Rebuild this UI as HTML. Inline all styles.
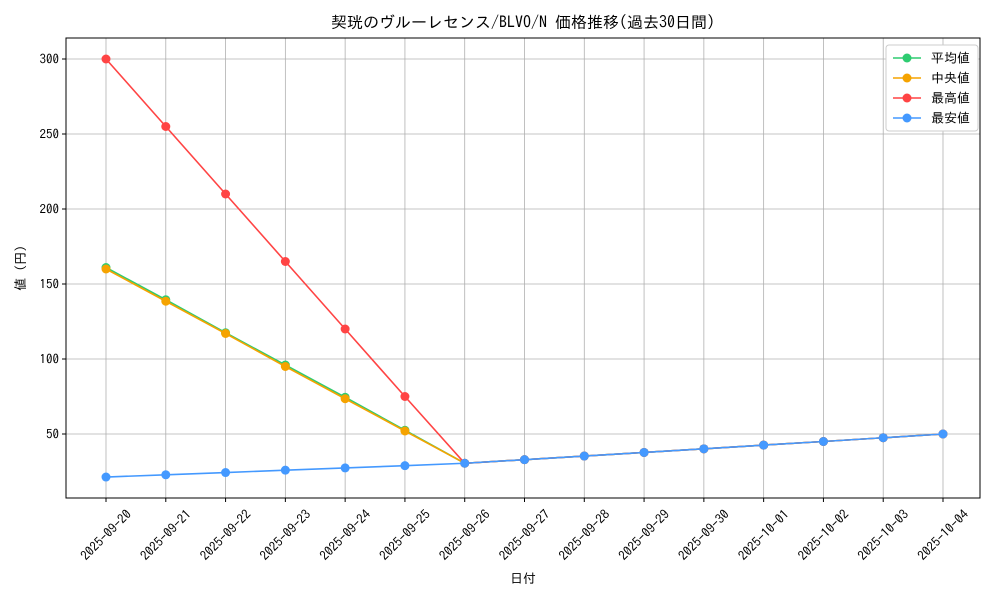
<!DOCTYPE html>
<html><head><meta charset="utf-8"><style>
body{margin:0;background:#fff;}
svg text{font-family:"IPAGothic","Noto Sans CJK JP",sans-serif;fill:#000;}
</style></head><body>
<svg id="chart" width="1000" height="600" xmlns="http://www.w3.org/2000/svg"></svg>
<script>
const dates=["2025-09-20","2025-09-21","2025-09-22","2025-09-23","2025-09-24","2025-09-25","2025-09-26","2025-09-27","2025-09-28","2025-09-29","2025-09-30","2025-10-01","2025-10-02","2025-10-03","2025-10-04"];
const tail=[32.9,35.3,37.7,40.1,42.6,45,47.5,50];
const avgVals=[161,139.5,117.5,96,74.5,52.5,30.5].concat(tail);
const medVals=[160,138.5,117,95,73.5,52,30.5].concat(tail);
const maxVals=[300,255,210,165,120,75,30.5].concat(tail);
const minVals=[21.3,22.8,24.3,25.9,27.4,28.9,30.5].concat(tail);
const yTicks=[50,100,150,200,250,300];
const seriesNames=["平均値","中央値","最高値","最安値"];
const seriesColors=["#2ecc71","#f5a300","#ff4444","#4499ff"];
const seriesData=[avgVals,medVals,maxVals,minVals];
const NS="http://www.w3.org/2000/svg";
const svg=document.getElementById('chart');
const L=66,R=980,T=38,B=498;
const x=i=>106+i*(943-106)/(dates.length-1);
const y=v=>434-(v-50)*1.5;
function mk(t,a,p){const e=document.createElementNS(NS,t);for(const k in a)e.setAttribute(k,a[k]);(p||svg).appendChild(e);return e;}
yTicks.forEach(v=>{
 const g=mk('line',{x1:L,x2:R,y1:y(v),y2:y(v),stroke:'#b0b0b0','stroke-width':0.8});
 
 
 mk('line',{x1:L-4,x2:L,y1:y(v),y2:y(v),stroke:'#000'});
 const t=mk('text',{x:L-7,y:y(v)+4.5,'text-anchor':'end','font-size':13});t.textContent=v;
 
 
});
dates.forEach((d,i)=>{
 const g=mk('line',{x1:x(i),x2:x(i),y1:T,y2:B,stroke:'#b0b0b0','stroke-width':0.8});
 
 
 mk('line',{x1:x(i),x2:x(i),y1:B,y2:B+4,stroke:'#000'});
 const t=mk('text',{x:0,y:4.5,'text-anchor':'middle','font-size':13,transform:`translate(${x(i)},${B+37}) rotate(-45)`});t.textContent=d;
 
 
});
const frame=mk('rect',{x:L,y:T,width:R-L,height:B-T,fill:'none',stroke:'#000','stroke-width':1});


seriesData.forEach((vals,s)=>{
 const g=mk('g',{});
 
 
 mk('polyline',{points:vals.map((v,i)=>x(i)+','+y(v)).join(' '),fill:'none',stroke:seriesColors[s],'stroke-width':1.6},g);
 vals.forEach((v,i)=>{const c=mk('circle',{cx:x(i),cy:y(v),r:4.5,fill:seriesColors[s]},g);
  
  });
});
let t=mk('text',{x:523,y:28,'text-anchor':'middle','font-size':16});
t.textContent='契珖のヴルーレセンス/BLVO/N 価格推移(過去30日間)';


t=mk('text',{x:523,y:583,'text-anchor':'middle','font-size':13});t.textContent='日付';


t=mk('text',{x:0,y:0,'text-anchor':'middle','font-size':13,transform:'translate(25,268) rotate(-90)'});t.textContent='値 (円)';


const lg=mk('g',{});


mk('rect',{x:886,y:45,width:92,height:86,rx:3,fill:'#fff',stroke:'#ccc'},lg);
seriesNames.forEach((n,s)=>{
 const yy=58+s*20;
 const e=mk('g',{},lg);
 
 
 mk('line',{x1:893,x2:921,y1:yy,y2:yy,stroke:seriesColors[s],'stroke-width':1.6},e);
 mk('circle',{cx:907,cy:yy,r:4.5,fill:seriesColors[s]},e);
 const tt=mk('text',{x:931,y:yy+4.5,'font-size':13},e);tt.textContent=n;
});
</script>
</body></html>
